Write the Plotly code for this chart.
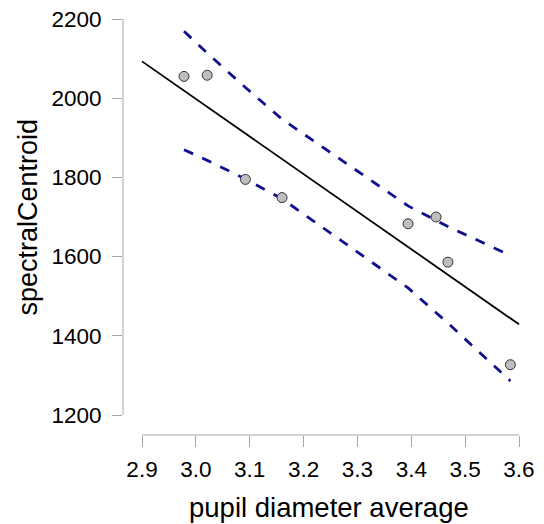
import plotly.graph_objects as go

# Data
pupil = [2.978, 3.021, 3.092, 3.160, 3.394, 3.446, 3.468, 3.584]
centroid = [2055, 2058, 1795, 1749, 1683, 1700, 1586, 1327]

# Regression line (ends)
fit_x = [2.9, 3.6]
fit_y = [2093, 1429]

# 95% confidence band at each observed x
band_upper = [2169, 2114, 2027, 1947, 1728, 1691, 1676, 1603]
band_lower = [1870, 1843, 1796, 1746, 1521, 1459, 1432, 1286]

x_ticks = [2.9, 3.0, 3.1, 3.2, 3.3, 3.4, 3.5, 3.6]
x_tick_text = ["2.9", "3.0", "3.1", "3.2", "3.3", "3.4", "3.5", "3.6"]
y_ticks = [1200, 1400, 1600, 1800, 2000, 2200]

FONT = "Liberation Sans, Arial, sans-serif"
AXCOL = "#a6a6a6"

fig = go.Figure()
fig.add_trace(go.Scatter(x=pupil, y=band_upper, mode="lines",
                         line=dict(color="#10108f", width=2.8, dash="10px,10px"),
                         hoverinfo="skip"))
fig.add_trace(go.Scatter(x=pupil, y=band_lower, mode="lines",
                         line=dict(color="#10108f", width=2.8, dash="10px,10px"),
                         hoverinfo="skip"))
fig.add_trace(go.Scatter(x=fit_x, y=fit_y, mode="lines",
                         line=dict(color="black", width=1.8)))
fig.add_trace(go.Scatter(x=pupil, y=centroid, mode="markers",
                         marker=dict(size=10, color="#bebebe",
                                     line=dict(color="#333333", width=1))))

fig.update_layout(
    width=544, height=524,
    margin=dict(l=123, r=9, t=0, b=89),
    plot_bgcolor="white", paper_bgcolor="white",
    showlegend=False,
    font=dict(family=FONT, color="black"),
    xaxis=dict(range=[2.8647, 3.6297], showgrid=False, zeroline=False,
               showline=False, tickmode="array", tickvals=x_ticks,
               ticktext=x_tick_text, ticks="outside", ticklen=11,
               tickcolor=AXCOL, tickwidth=1, tickfont=dict(size=22.5),
               ticklabelstandoff=3),
    yaxis=dict(range=[1149.5, 2248], showgrid=False, zeroline=False,
               showline=False, tickmode="array", tickvals=y_ticks,
               ticks="outside", ticklen=10, tickcolor=AXCOL, tickwidth=1,
               tickfont=dict(size=22.5), ticklabelstandoff=6),
    shapes=[
        dict(type="line", xref="x", yref="paper", x0=2.9, x1=3.6, y0=0, y1=0,
             line=dict(color=AXCOL, width=1)),
        dict(type="line", xref="paper", yref="y", x0=0, x1=0, y0=1200, y1=2200,
             line=dict(color=AXCOL, width=1)),
    ],
    annotations=[
        dict(text="pupil diameter average", xref="paper", yref="paper",
             x=0.5, y=0, xanchor="center", yanchor="top", yshift=-55,
             showarrow=False, font=dict(size=27.5)),
        dict(text="spectralCentroid", xref="paper", yref="paper",
             x=0, y=0.5, xanchor="center", yanchor="middle", xshift=-96,
             textangle=-90, showarrow=False, font=dict(size=27)),
    ],
)

fig.write_html("out.html")
